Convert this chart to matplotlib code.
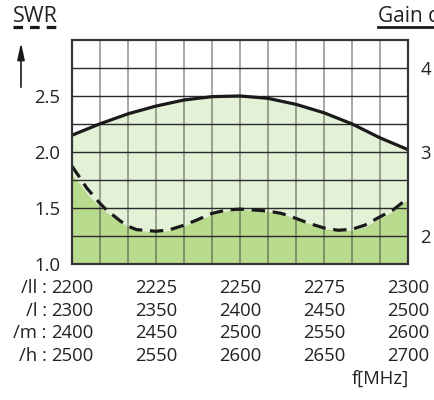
import numpy as np
import matplotlib
matplotlib.use('Agg')
import matplotlib.pyplot as plt
from matplotlib.transforms import blended_transform_factory

plt.rcParams['font.family'] = ['Open Sans', 'DejaVu Sans']

# ---------- data ----------
freq = [2200, 2202.4, 2204.4, 2208.3, 2210.3, 2214.3, 2216.7, 2219.2, 2225, 2229.2,
        2233.3, 2237.1, 2241.7, 2246, 2250, 2258.3, 2262.3, 2266.7, 2270.7, 2275,
        2279.2, 2283.3, 2287.1, 2291.7, 2295.5, 2300]
swr = [1.873, 1.768, 1.678, 1.542, 1.482, 1.386, 1.337, 1.307, 1.292, 1.307,
       1.346, 1.392, 1.452, 1.482, 1.490, 1.473, 1.452, 1.407, 1.361, 1.322,
       1.301, 1.310, 1.346, 1.422, 1.482, 1.587]
swr_fill = [1.80, 1.71, 1.63, 1.51, 1.46, 1.377, 1.33, 1.30, 1.286, 1.30,
            1.34, 1.385, 1.44, 1.475, 1.488, 1.47, 1.45, 1.405, 1.36, 1.316,
            1.30, 1.30, 1.33, 1.41, 1.47, 1.58]
gain_freq = [2200, 2208.3, 2216.7, 2225, 2233.3, 2241.7, 2250, 2258.3,
             2266.7, 2275, 2283.3, 2291.7, 2300]
gain = [3.200, 3.335, 3.455, 3.547, 3.619, 3.659, 3.667, 3.639,
        3.567, 3.467, 3.335, 3.168, 3.028]

tick_freq = [2200, 2225, 2250, 2275, 2300]
row_prefix = ['/ll :', '/l :', '/m :', '/h :']
row_labels = [['2200', '2225', '2250', '2275', '2300'],
              ['2300', '2350', '2400', '2450', '2500'],
              ['2400', '2450', '2500', '2550', '2600'],
              ['2500', '2550', '2600', '2650', '2700']]
swr_ticks = [1.0, 1.5, 2.0, 2.5]
gain_ticks = [2, 3, 4]

W, H = 435, 400
fig = plt.figure(figsize=(W / 100, H / 100), dpi=100)
ax = fig.add_axes([72 / W, 136 / H, 336 / W, 224 / H])
ax2 = ax.twinx()

ax.set_xlim(2200, 2300)
ax.set_ylim(1.0, 3.0)
ax2.set_ylim(1 + 2 / 3, 4 + 1 / 3)

# fills
light = '#e3f1d6'
dark = '#b8db8e'
ax.fill_between(gain_freq, gain, 1.0, transform=ax2.transData,
                color=light, lw=0, zorder=1)
ax.fill_between(freq, swr_fill, 1.0, color=dark, lw=0, zorder=1.2)

# grid: 12 columns, 8 rows (columns semi transparent -> darker on green)
col_x = np.linspace(2200, 2300, 13)[1:-1]
for cx in col_x:
    ax.plot([cx, cx], [1.0, 3.0], color='#303030', alpha=0.5, lw=1.2, zorder=2.05)
for ry in np.arange(1.25, 3.0, 0.25):
    ax.plot([2200, 2300], [ry, ry], color='#2a2a2a', lw=1.0, zorder=2.1)

# curves
ax.plot(gain_freq, gain, color='#1a1a1a', lw=2.3, transform=ax2.transData,
        zorder=4, solid_capstyle='butt')
ax.plot(freq, swr, color='#1a1a1a', lw=2.3, ls=(0, (4.2, 2.4)), zorder=4)

for a in (ax, ax2):
    for s in a.spines.values():
        s.set_linewidth(1.5)
        s.set_color('#333333')

ax.set_xlim(2200, 2300)
ax.set_yticks(swr_ticks)
ax.set_yticklabels(['%.1f' % v for v in swr_ticks])
ax.tick_params(axis='y', length=0, pad=8.5, labelsize=13.3, colors='#222222')
ax.set_xticks([])
ax2.set_yticks(gain_ticks)
ax2.tick_params(axis='y', length=0, pad=9, labelsize=13.3, colors='#222222')

# frequency rows under the plot
tr = blended_transform_factory(ax.transData, fig.transFigure)
row_y = [288, 311, 333, 356]
for pre, labs, y in zip(row_prefix, row_labels, row_y):
    fig.text(47 / W, 1 - y / H, pre, ha='right', va='center', fontsize=13.3, color='#222222')
    for f, lab in zip(tick_freq, labs):
        ax.text(f, 1 - y / H, lab, transform=tr, ha='center', va='center',
                fontsize=13.3, color='#222222', clip_on=False)
fig.text(409 / W, 1 - 379 / H, 'f[MHz]', ha='right', va='center', fontsize=13.3, color='#222222')

# axis titles
fig.text(13 / W, 1 - 16 / H, 'SWR', ha='left', va='center', fontsize=15.5, color='#222222')
fig.add_artist(plt.Line2D([13 / W, 62 / W], [1 - 27 / H, 1 - 27 / H], color='#1a1a1a',
                          lw=2.3, ls=(0, (3.0, 2.2)), transform=fig.transFigure))
fig.text(378 / W, 1 - 16 / H, 'Gain dBi', ha='left', va='center', fontsize=15, color='#222222')
fig.add_artist(plt.Line2D([378 / W, 1.0], [1 - 27 / H, 1 - 27 / H], color='#1a1a1a',
                          lw=2.0, transform=fig.transFigure))

ax.annotate('', xy=(21 / W, 1 - 40 / H), xytext=(21 / W, 1 - 90 / H),
            xycoords='figure fraction', textcoords='figure fraction',
            arrowprops=dict(arrowstyle='-|>,head_length=1.0,head_width=0.22',
                            color='#1a1a1a', lw=1.2))

fig.savefig('out.png', dpi=100)
